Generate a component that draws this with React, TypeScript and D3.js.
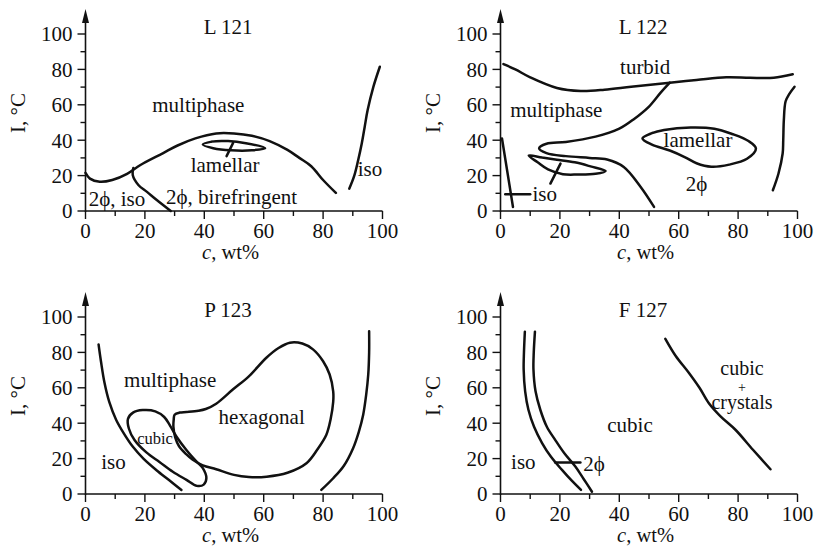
import React from "react";
import * as d3 from "d3";

type Pt = [number, number];

// ---------- data (c in wt%, T in °C) ----------
const xTicks = [0, 10, 20, 30, 40, 50, 60, 70, 80, 90, 100];
const yTicks = [0, 10, 20, 30, 40, 50, 60, 70, 80, 90, 100];
const tickLabels = ["0", "20", "40", "60", "80", "100"];
const titles = ["L 121", "L 122", "P 123", "F 127"];

// L 121
const l121Dome: Pt[] = [[0, 21.5], [1.5, 18.3], [4.8, 16.5], [9, 17.5], [14, 21], [18.5, 26], [26, 32.6], [31, 37], [37, 41], [44, 43.8], [50, 43.8], [56, 42.5], [62, 39.5], [68, 34.5], [72, 30], [76, 25.3], [80, 17.5], [84.3, 10.2]];
const l121Iso2: Pt[] = [[16.1, 24.3], [15.9, 20.3], [17.8, 14.7], [20.7, 10.8], [24, 6.2], [28.7, 0]];
const l121Lamellar: Pt[] = [[39.5, 37.5], [42.5, 39.2], [48, 39.5], [54, 38.3], [60.5, 35.5], [56, 34.3], [49, 34.3], [43, 35.5]];
const l121Pointer: Pt[] = [[49.7, 38.5], [47.5, 31]];
const l121RightIso: Pt[] = [[88.8, 12.6], [90.5, 20], [91.8, 28.7], [93, 38], [94, 47.5], [95, 57], [96.9, 70], [99.1, 81.5]];

// L 122
const l122Turbid: Pt[] = [[1, 83], [5, 80], [10, 75.5], [19, 69.5], [27, 67.8], [35, 68.5], [44, 70.2], [57, 72.5], [66, 74], [76, 75.6], [84, 75.3], [92, 75.3], [98.4, 77.3]];
const l122SCurve: Pt[] = [[57, 72.5], [54, 67], [50, 59], [45, 52], [40, 46.5], [32, 42], [22, 39], [15.5, 38], [13, 35.5], [15.5, 32.7], [22, 31], [30, 30], [35.9, 29.1], [41.5, 24.9], [47.2, 13.6], [51.7, 2.3]];
const l122IsoLoop: Pt[] = [[9.5, 31.3], [14, 30.2], [19, 29], [25, 27.5], [30.3, 25.2], [35.4, 22.6], [32, 21], [26, 20.6], [21, 20.8], [16, 23.5], [12.5, 27.5]];
const l122IsoPointer: Pt[] = [[20.2, 26.8], [16.8, 15.5]];
const l122LeftLine: Pt[] = [[0.5, 41], [4.2, 2.3]];
const l122LeftTick: Pt[] = [[1.6, 9.5], [10, 9.5]];
const l122Lamellar: Pt[] = [[47.8, 41], [51, 44], [55.1, 45.8], [64, 47.2], [72, 46.5], [78, 43.5], [83.5, 39.5], [86, 35.3], [83, 29.5], [77, 26.2], [71, 25], [66, 27], [62, 30.5], [57, 34.2], [51, 37.5]];
const l122Right: Pt[] = [[99, 70.2], [97.2, 66], [96, 62], [95.4, 51.3], [95.2, 40], [95, 32.5], [93.6, 21.2], [91.7, 11.7]];

// P 123
const p123U: Pt[] = [[4.4, 84.5], [5.2, 75], [6.4, 62.8], [8, 52], [10.3, 42], [13, 34], [15.9, 26.8], [19.5, 20], [23.8, 13.6], [28, 8], [32.3, 2.3]];
const p123Cubic: Pt[] = [[19.3, 47.4], [16, 46], [14.3, 42.5], [14.6, 37], [16.5, 30.5], [20.5, 23.5], [25, 18], [29.4, 12.6], [34, 8], [37.5, 4.6], [39.8, 5.3], [40.7, 9], [39.5, 14.6], [37, 19], [33.9, 25], [30.6, 32.5], [28.5, 38.5], [26.5, 43.5], [23.5, 46.7]];
const p123Hex: Pt[] = [[30, 44.8], [31.7, 46], [34, 46.3], [38, 47], [40.5, 48], [44, 51], [49.6, 59], [55, 66.5], [60.9, 77], [65, 82.5], [68.8, 85.5], [73, 85], [76.6, 81.7], [80, 75], [82.2, 67.5], [83.4, 58], [83.4, 52], [82.5, 42], [81.1, 33.5], [78, 25], [74.4, 17.4], [68, 12], [61, 9.8], [55, 9.6], [50, 10.8], [44, 14], [39.5, 16.2], [36, 19.5], [33.9, 22.5], [31.5, 27], [30.2, 32], [29.6, 38], [29.7, 42]];
const p123Right: Pt[] = [[79.4, 2.3], [83.4, 8.9], [87, 16], [90.1, 25.9], [92, 35], [93.5, 44.8], [94.5, 56], [95.2, 67.5], [95.5, 80], [95.5, 92]];

// F 127
const f127Left1: Pt[] = [[8.2, 91.7], [7.9, 80], [7.8, 70.3], [8.3, 58], [9.4, 47.6], [11.3, 38], [14, 28.8], [17, 21], [20.7, 13.6], [24, 7.5], [27.1, 2.3]];
const f127Left2: Pt[] = [[11.6, 91.7], [11.2, 80], [11.1, 70.3], [11.8, 58], [13.4, 47.6], [15.6, 38], [18.4, 30.6], [21.5, 23], [25.2, 15.5], [28, 8.5], [30.8, 1.3]];
const f127Tick: Pt[] = [[18.4, 17.8], [26.9, 17.8]];
const f127Right: Pt[] = [[55.5, 87.7], [59, 78], [63.4, 68.5], [67, 60], [70.1, 51.4], [74, 44], [79.1, 36.3], [85, 25], [90.9, 14]];

// labels: [text (lines split by \n), c, T of first line, fontSize]
type Lab = [string, number, number, number?];
const l121Labels: Lab[] = [["multiphase", 38, 60], ["lamellar", 47, 26], ["2ϕ, iso", 10.6, 7.2], ["2ϕ, birefringent", 49.2, 8.1], ["iso", 95.8, 24]];
const l122Labels: Lab[] = [["turbid", 48.7, 81.5], ["multiphase", 18.8, 57], ["lamellar", 66.5, 40.5], ["2ϕ", 66, 15.6], ["iso", 14.9, 10]];
const p123Labels: Lab[] = [["multiphase", 28.5, 64.4], ["hexagonal", 59.3, 43.7], ["cubic", 23.4, 31.5, 16.5], ["iso", 9.4, 18.2]];
const f127Labels: Lab[] = [["cubic", 43.6, 39], ["cubic\n+\ncrystals", 81.3, 71], ["iso", 7.7, 18.2], ["2ϕ", 31.5, 17.3]];

// ---------- layout ----------
const W = 297;
const H = 177;
const FONT = "'Liberation Serif', 'Times New Roman', serif";

interface Curve { pts: Pt[]; closed?: boolean; straight?: boolean }

function Panel({ ox, oy, title, curves, labels }: { ox: number; oy: number; title: string; curves: Curve[]; labels: Lab[] }) {
  const x = d3.scaleLinear().domain([0, 100]).range([0, W]);
  const y = d3.scaleLinear().domain([0, 100]).range([0, -H]);
  const open = d3.line<Pt>().x((d) => x(d[0])).y((d) => y(d[1])).curve(d3.curveCatmullRom.alpha(0.5));
  const closed = d3.line<Pt>().x((d) => x(d[0])).y((d) => y(d[1])).curve(d3.curveCatmullRomClosed.alpha(0.5));
  const straight = d3.line<Pt>().x((d) => x(d[0])).y((d) => y(d[1]));
  return (
    <g transform={`translate(${ox},${oy})`} fontFamily={FONT} fill="#111">
      {/* axes */}
      <line x1={0} y1={0} x2={x(100)} y2={0} stroke="#111" strokeWidth={1.6} />
      <line x1={0} y1={1} x2={0} y2={-H - 14} stroke="#111" strokeWidth={1.6} />
      <path d={`M0,${-H - 25} L-3.5,${-H - 11} L3.5,${-H - 11} Z`} fill="#111" />
      {xTicks.map((t) => (
        <line key={"xt" + t} x1={x(t)} x2={x(t)} y1={0} y2={t % 20 === 0 ? 8 : 5} stroke="#111" strokeWidth={1.4} />
      ))}
      {yTicks.map((t) => (
        <line key={"yt" + t} x1={0} x2={t % 20 === 0 ? -8 : -5} y1={y(t)} y2={y(t)} stroke="#111" strokeWidth={1.4} />
      ))}
      {tickLabels.map((s) => (
        <text key={"xl" + s} x={x(+s)} y={27} textAnchor="middle" fontSize={21}>{s}</text>
      ))}
      {tickLabels.map((s) => (
        <text key={"yl" + s} x={-13} y={y(+s)} dy="0.35em" textAnchor="end" fontSize={21}>{s}</text>
      ))}
      <text x={145} y={48} textAnchor="middle" fontSize={20.5}>
        <tspan fontStyle="italic">c</tspan>, wt%
      </text>
      <text transform={`translate(-61,${-98}) rotate(-90)`} textAnchor="middle" fontSize={21}>I, °C</text>
      <text x={x(48)} y={y(104)} dy="0.35em" textAnchor="middle" fontSize={21}>{title}</text>
      {/* curves */}
      {curves.map((c, i) => (
        <path key={"c" + i} d={(c.straight ? straight : c.closed ? closed : open)(c.pts) || ""} fill="none" stroke="#111" strokeWidth={2.5} strokeLinecap="round" />
      ))}
      {labels.map((l, i) => {
        const lines = l[0].split("\n");
        if (lines.length === 1) {
          return <text key={"l" + i} x={x(l[1])} y={y(l[2])} dy="0.35em" textAnchor="middle" fontSize={l[3] ?? 21}>{l[0]}</text>;
        }
        const gaps = [0, 17, 17];
        return (
          <text key={"l" + i} x={x(l[1])} y={y(l[2])} textAnchor="middle" fontSize={20}>
            {lines.map((s, j) => (
              <tspan key={j} x={x(l[1])} dy={j === 0 ? "0.35em" : gaps[j]} fontSize={s === "+" ? 14 : undefined}>{s}</tspan>
            ))}
          </text>
        );
      })}
    </g>
  );
}

export default function App() {
  return (
    <svg width={817} height={551} style={{ display: "block", position: "absolute", left: 0, top: 0, background: "#fff" }}>
      <rect width={817} height={551} fill="#fff" />
      <Panel ox={85.5} oy={211} title={titles[0]} labels={l121Labels} curves={[
        { pts: l121Dome }, { pts: l121Iso2 }, { pts: l121Lamellar, closed: true }, { pts: l121Pointer, straight: true }, { pts: l121RightIso },
      ]} />
      <Panel ox={500.5} oy={211} title={titles[1]} labels={l122Labels} curves={[
        { pts: l122Turbid }, { pts: l122SCurve }, { pts: l122IsoLoop, closed: true }, { pts: l122IsoPointer, straight: true },
        { pts: l122LeftLine, straight: true }, { pts: l122LeftTick, straight: true }, { pts: l122Lamellar, closed: true }, { pts: l122Right },
      ]} />
      <Panel ox={85.5} oy={494} title={titles[2]} labels={p123Labels} curves={[
        { pts: p123U }, { pts: p123Cubic, closed: true }, { pts: p123Hex, closed: true }, { pts: p123Right },
      ]} />
      <Panel ox={500.5} oy={494} title={titles[3]} labels={f127Labels} curves={[
        { pts: f127Left1 }, { pts: f127Left2 }, { pts: f127Tick, straight: true }, { pts: f127Right },
      ]} />
    </svg>
  );
}
